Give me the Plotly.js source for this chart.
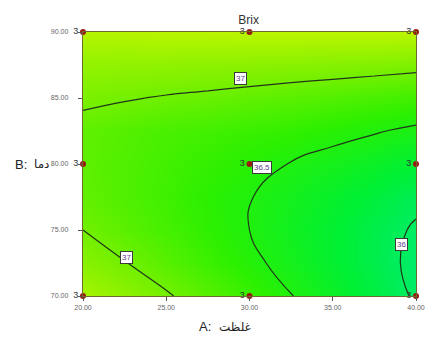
<!DOCTYPE html>
<html>
<head>
<meta charset="utf-8">
<script src="https://cdn.plot.ly/plotly-3.0.1.min.js"></script>
<style>
  html, body { margin: 0; padding: 0; background: #ffffff; }
  #chart { width: 425px; height: 342px; }
</style>
</head>
<body>
<div id="chart"></div>
<script>
// Factor levels (A: concentration, B: temperature)
const concentration = [20, 22.5, 25, 27.5, 30, 32.5, 35, 37.5, 40];
const temperature = [70, 72.5, 75, 77.5, 80, 82.5, 85, 87.5, 90];

// Predicted Brix over the A x B grid (rows follow temperature)
const brix = [
  [37.36, 37.19, 37.03, 36.86, 36.68, 36.51, 36.33, 36.15, 35.97],
  [37.15, 37.01, 36.86, 36.71, 36.56, 36.41, 36.25, 36.10, 35.94],
  [37.00, 36.88, 36.76, 36.63, 36.50, 36.37, 36.24, 36.11, 35.97],
  [36.92, 36.82, 36.72, 36.61, 36.51, 36.40, 36.29, 36.18, 36.06],
  [36.90, 36.82, 36.74, 36.66, 36.58, 36.49, 36.41, 36.32, 36.22],
  [36.90, 36.84, 36.78, 36.74, 36.69, 36.65, 36.58, 36.52, 36.45],
  [37.06, 37.02, 36.98, 36.95, 36.91, 36.87, 36.83, 36.78, 36.73],
  [37.22, 37.21, 37.20, 37.18, 37.17, 37.15, 37.13, 37.11, 37.08],
  [37.45, 37.46, 37.48, 37.49, 37.49, 37.50, 37.50, 37.50, 37.50]
];

// Design points and their replicate counts
const designA = [20, 30, 40, 20, 30, 40, 20, 30, 40];
const designB = [70, 70, 70, 80, 80, 80, 90, 90, 90];
const replicates = ['3', '3', '3', '3', '3', '3', '3', '3', '3'];

// Contour level labels
const levelText = ['37', '36.5', '37', '36'];
const levelA = [29.45, 30.75, 22.6, 39.1];
const levelB = [86.5, 79.7, 72.95, 73.9];

const xTicks = [20, 25, 30, 35, 40];
const yTicks = [70, 75, 80, 85, 90];

// Axis titles: factor code and factor name
const xTitleCode = 'A:';
const xTitleName = 'غلظت';
const yTitleCode = 'B:';
const yTitleName = 'دما';

const surface = {
  type: 'contour',
  x: concentration,
  y: temperature,
  z: brix,
  zmin: 35.9,
  zmax: 37.5,
  colorscale: [
    [0.0, '#00ec72'],
    [0.2, '#00f034'],
    [0.45, '#2cf000'],
    [0.7, '#74f000'],
    [1.0, '#bcf500']
  ],
  showscale: false,
  zsmooth: 'best',
  contours: { coloring: 'heatmap', start: 36, end: 37, size: 0.5, showlabels: false },
  line: { color: '#22351a', width: 1.2, smoothing: 1.3 },
  hoverinfo: 'skip'
};

const points = {
  type: 'scatter',
  mode: 'markers+text',
  x: designA,
  y: designB,
  text: replicates,
  textposition: 'middle left',
  textfont: { family: 'Liberation Sans, Arial, sans-serif', size: 9, color: '#333333' },
  marker: { color: '#9b1b12', size: 6 },
  cliponaxis: false,
  hoverinfo: 'skip'
};

const fontMain = 'Liberation Sans, DejaVu Sans, Arial, sans-serif';

const annotations = levelText.map((t, i) => ({
  x: levelA[i], y: levelB[i], xref: 'x', yref: 'y',
  text: t, showarrow: false,
  font: { family: fontMain, size: 8, color: '#5b3d8f' },
  bgcolor: '#ffffff', bordercolor: '#3a3a3a', borderwidth: 1, borderpad: 1
}));

const titleFont = { family: fontMain, size: 13, color: '#222222' };
const arabicFont = { family: 'DejaVu Sans, Liberation Sans, sans-serif', size: 12, color: '#222222' };

annotations.push(
  { xref: 'paper', yref: 'paper', x: 0.391, y: -0.117, xanchor: 'right', yanchor: 'middle',
    text: xTitleCode, showarrow: false, font: titleFont },
  { xref: 'paper', yref: 'paper', x: 0.403, y: -0.117, xanchor: 'left', yanchor: 'middle',
    text: xTitleName, showarrow: false, font: arabicFont },
  { xref: 'paper', yref: 'paper', x: -0.163, y: 0.5, xanchor: 'right', yanchor: 'middle',
    text: yTitleCode, showarrow: false, font: titleFont },
  { xref: 'paper', yref: 'paper', x: -0.153, y: 0.5, xanchor: 'left', yanchor: 'middle',
    text: yTitleName, showarrow: false, font: arabicFont }
);

const axisCommon = {
  showgrid: false, zeroline: false,
  showline: true, mirror: true, linecolor: '#6c6a2c', linewidth: 1.2,
  ticks: 'outside', ticklen: 4, tickcolor: '#555555',
  tickfont: { family: fontMain, size: 7, color: '#666666' },
  tickformat: '.2f'
};

const layout = {
  width: 425, height: 342,
  margin: { l: 83, r: 9, t: 32, b: 46 },
  paper_bgcolor: '#ffffff', plot_bgcolor: '#ffffff',
  showlegend: false,
  title: {
    text: 'Brix', x: 0.585, xanchor: 'center', y: 0.942, yanchor: 'middle',
    font: { family: fontMain, size: 12, color: '#333333' }
  },
  xaxis: Object.assign({}, axisCommon, { range: [20, 40], tickvals: xTicks }),
  yaxis: Object.assign({}, axisCommon, { range: [70, 90], tickvals: yTicks, ticklabelstandoff: 8 }),
  annotations: annotations
};

Plotly.newPlot('chart', [surface, points], layout, { displayModeBar: false, staticPlot: true });
</script>
</body>
</html>
